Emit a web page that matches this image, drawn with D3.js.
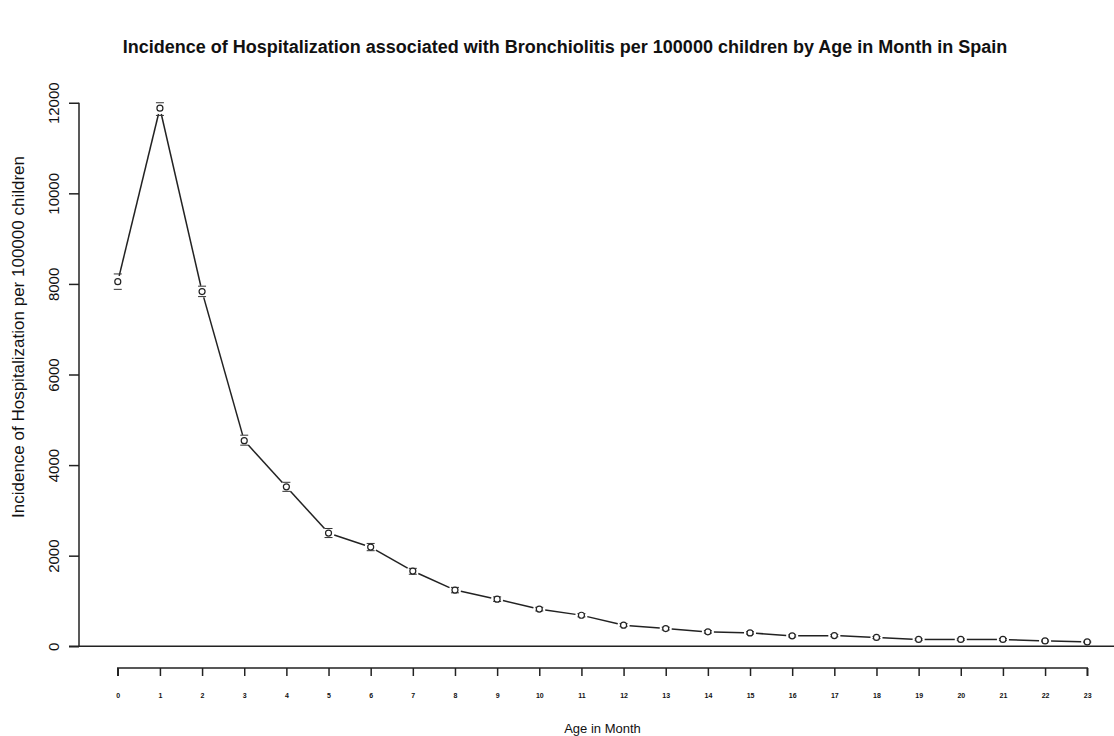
<!DOCTYPE html>
<html lang="en">
  <head>
    <meta charset="UTF-8">
    <title>Bronchiolitis hospitalization by age</title>
    <script src="https://d3js.org/d3.v7.min.js"></script>
    <style>
      * {
        margin: 0;
        padding: 0;
      }
      body {
        background: #fff;
      }
      body > svg {
        display: block;
      }
      text {
        font-family: "Liberation Sans", Arial, sans-serif;
        fill: #111;
      }
    </style>
  </head>
  <body>
    <script>
      // age in months 0..23
      var months = d3.range(0, 24);
      var incidence = [8050, 11880, 7830, 4540, 3520, 2500, 2190, 1660, 1240, 1040,
                       820, 685, 465, 390, 318, 295, 230, 235, 195, 150,
                       150, 150, 118, 96];
      // confidence interval ends
      var lower = [7880, 11720, 7720, 4440, 3420, 2400, 2110, 1590, 1180, 990,
                   780, 650, 440, 360, 290, 270, 205, 210, 170, 130,
                   130, 130, 100, 80];
      var upper = [8220, 12000, 7950, 4660, 3620, 2600, 2270, 1720, 1300, 1090,
                   860, 720, 500, 420, 345, 320, 250, 260, 215, 165,
                   165, 170, 135, 110];
      var yTicks = [0, 2000, 4000, 6000, 8000, 10000, 12000];

      var width = 1114;
      var height = 736;

      var svg = d3.select("body").append("svg")
        .attr("width", width)
        .attr("height", height);

      // R-style 4% padding on each side of the data range
      var x = d3.scaleLinear().domain([-0.92, 23.92]).range([79, 1126]);
      var y = d3.scaleLinear().domain([-480, 12480]).range([668, 81]);

      var data = months.map(function (m, i) {
        return { m: m, v: incidence[i], lo: lower[i], hi: upper[i] };
      });

      // title
      svg.append("text")
        .attr("x", 565)
        .attr("y", 53)
        .attr("text-anchor", "middle")
        .attr("font-weight", "bold")
        .attr("font-size", "18px")
        .text("Incidence of Hospitalization associated with Bronchiolitis per 100000 children by Age in Month in Spain");

      // y axis
      var yAxis = svg.append("g")
        .attr("transform", "translate(79,0)")
        .call(d3.axisLeft(y).tickValues(yTicks).tickSize(10).tickFormat(d3.format("d")));
      yAxis.select(".domain").attr("d", "M0," + y(0) + "V" + y(12000)).attr("stroke", "#222").attr("stroke-width", 1.5);
      yAxis.selectAll(".tick line").attr("stroke", "#222").attr("stroke-width", 1.5);
      yAxis.selectAll(".tick text")
        .attr("font-size", "15px")
        .attr("fill", "#111")
        .attr("transform", "rotate(-90)")
        .attr("x", 0)
        .attr("y", -20)
        .attr("dy", 0)
        .attr("text-anchor", "middle");

      svg.append("text")
        .attr("transform", "translate(24," + 337 + ") rotate(-90)")
        .attr("text-anchor", "middle")
        .attr("font-size", "17px")
        .text("Incidence of Hospitalization per 100000 children");

      // horizontal line at zero
      svg.append("line")
        .attr("x1", 69).attr("x2", width)
        .attr("y1", y(0)).attr("y2", y(0))
        .attr("stroke", "#222").attr("stroke-width", 1.5);

      // x axis at the bottom of the plot region
      var xAxis = svg.append("g")
        .attr("transform", "translate(0,668)")
        .call(d3.axisBottom(x).tickValues(months).tickSize(8).tickFormat(d3.format("d")));
      xAxis.select(".domain").attr("d", "M" + x(0) + ",8V0H" + x(23) + "V8").attr("stroke", "#222").attr("stroke-width", 1.5);
      xAxis.selectAll(".tick line").attr("stroke", "#222").attr("stroke-width", 1.5);
      xAxis.selectAll(".tick text")
        .attr("font-size", "7px")
        .attr("font-weight", "bold")
        .attr("fill", "#111")
        .attr("y", 30)
        .attr("dy", 0);

      svg.append("text")
        .attr("x", (x(0) + x(23)) / 2)
        .attr("y", 733)
        .attr("text-anchor", "middle")
        .attr("font-size", "13px")
        .text("Age in Month");

      // line segments with gaps around points (type = "b")
      var gap = 6;
      var segs = d3.pairs(data);
      svg.append("g").selectAll("line")
        .data(segs)
        .enter().append("line")
        .each(function (p) {
          var x1 = x(p[0].m), y1 = y(p[0].v), x2 = x(p[1].m), y2 = y(p[1].v);
          var dx = x2 - x1, dy = y2 - y1, len = Math.sqrt(dx * dx + dy * dy);
          var ux = dx / len, uy = dy / len;
          d3.select(this)
            .attr("x1", x1 + ux * gap).attr("y1", y1 + uy * gap)
            .attr("x2", x2 - ux * gap).attr("y2", y2 - uy * gap);
        })
        .attr("stroke", "#222")
        .attr("stroke-width", 1.5);

      // error caps
      var caps = svg.append("g");
      caps.selectAll(".lo")
        .data(data)
        .enter().append("line")
        .attr("x1", function (d) { return x(d.m) - 4; })
        .attr("x2", function (d) { return x(d.m) + 4; })
        .attr("y1", function (d) { return y(d.lo); })
        .attr("y2", function (d) { return y(d.lo); })
        .attr("stroke", "#333").attr("stroke-width", 1);
      caps.selectAll(".hi")
        .data(data)
        .enter().append("line")
        .attr("x1", function (d) { return x(d.m) - 4; })
        .attr("x2", function (d) { return x(d.m) + 4; })
        .attr("y1", function (d) { return y(d.hi); })
        .attr("y2", function (d) { return y(d.hi); })
        .attr("stroke", "#333").attr("stroke-width", 1);

      // points
      svg.append("g").selectAll("circle")
        .data(data)
        .enter().append("circle")
        .attr("cx", function (d) { return x(d.m); })
        .attr("cy", function (d) { return y(d.v); })
        .attr("r", 3)
        .attr("fill", "#fff")
        .attr("stroke", "#222")
        .attr("stroke-width", 1.2);
    </script>
  </body>
</html>
